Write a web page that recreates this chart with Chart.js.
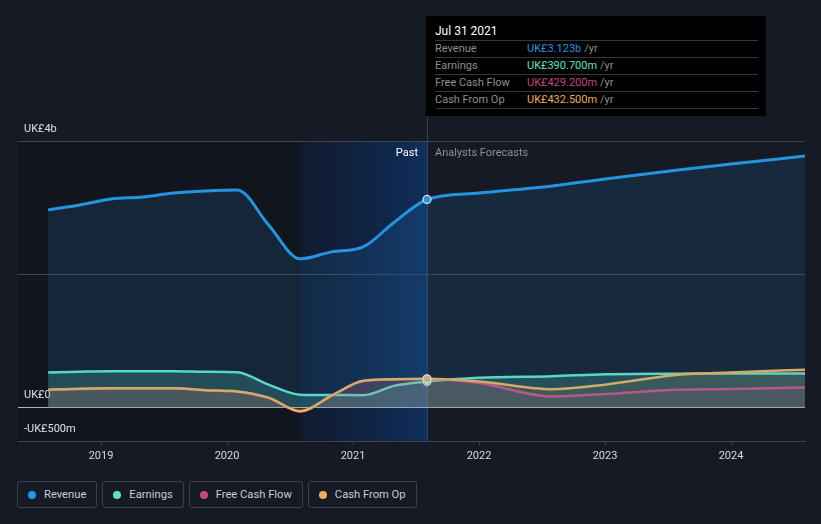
<!DOCTYPE html>
<html>
<head>
<meta charset="utf-8">
<script src="https://cdn.jsdelivr.net/npm/chart.js@4.4.1/dist/chart.umd.min.js"></script>
<style>
  body { margin: 0; width: 821px; height: 524px; overflow: hidden; position: relative;
         background: #151a24; font-family: Roboto, "Noto Sans", sans-serif; }
  #wrap { position: absolute; left: 0; top: 0; width: 821px; height: 470px; }
  #tip { position: absolute; left: 426px; top: 16px; width: 340px; height: 100px; box-sizing: border-box;
         background: #000; padding: 0 8px 0 9px; font-size: 11px; color: #8e8e8e; }
  #tip .ttl { padding-top: 8px; height: 16px; line-height: 14px; font-size: 12px; color: #fff; }
  #tip .row { border-top: 1px solid #363636; height: 16px; line-height: 16px; display: flex; }
  #tip .row:last-child { border-bottom: 1px solid #363636; }
  #tip .lbl { width: 92px; }
  #tip .u { color: #8e8e8e; margin-left: 3px; }
  #legend { position: absolute; left: 17px; top: 481px; display: flex; gap: 5px; }
  .btn { height: 27px; box-sizing: border-box; border: 1px solid #3b404a; border-radius: 3px;
         display: flex; align-items: center; padding: 0 10px 0 10px; font-size: 11.2px; color: #c9ccd2; }
  .btn i { width: 8px; height: 8px; border-radius: 50%; margin-right: 8px; display: inline-block; }
</style>
</head>
<body>
<div id="wrap"><canvas id="chart" width="821" height="470"></canvas></div>

<div id="tip">
  <div class="ttl">Jul 31 2021</div>
  <div class="row"><span class="lbl">Revenue</span><span style="color:#2394df">UK£3.123b</span><span class="u">/yr</span></div>
  <div class="row"><span class="lbl">Earnings</span><span style="color:#5de2c7">UK£390.700m</span><span class="u">/yr</span></div>
  <div class="row"><span class="lbl">Free Cash Flow</span><span style="color:#c9457f">UK£429.200m</span><span class="u">/yr</span></div>
  <div class="row"><span class="lbl">Cash From Op</span><span style="color:#eeae55">UK£432.500m</span><span class="u">/yr</span></div>
</div>

<div id="legend"></div>

<script>
// time axis in decimal years, values in UK£ millions
const times = [2018.58, 2018.83, 2019.08, 2019.33, 2019.58, 2019.83, 2020.08, 2020.33, 2020.58,
               2020.83, 2021.08, 2021.33, 2021.587, 2022.0, 2022.58, 2023.0, 2023.58, 2024.0, 2024.587];
const revenue    = [2966, 3041, 3131, 3161, 3221, 3251, 3266, 2741, 2232, 2337, 2412, 2786, 3123, 3221, 3326, 3430, 3565, 3655, 3775];
const earnings   = [529, 540, 547, 547, 547, 540, 532, 345, 195, 190, 187, 330, 390.7, 449, 472, 500, 509, 514, 514];
const freeCash   = [266, 281, 286, 288, 286, 258, 240, 146, -56, 176, 400, 423, 429.2, 370, 169, 205, 270, 280, 304];
const cashFromOp = [270, 285, 290, 292, 290, 262, 244, 150, -52, 180, 404, 427, 432.5, 394, 277, 345, 494, 529, 569];

const seriesNames = ["Revenue", "Earnings", "Free Cash Flow", "Cash From Op"];
const seriesColors = ["#2394df", "#5de2c7", "#c9457f", "#eeae55"];

const xMin = 2018.341, xMax = 2024.587;
const xTickYears = [2019, 2020, 2021, 2022, 2023, 2024];
const yTickValues = [-500, 0, 2000, 4000];
const yTickLabels = ["-UK£500m", "UK£0", "", "UK£4b"];
const pastStart = 2020.58;   // start of the highlighted last year
const cursorT = 2021.587;    // Jul 31 2021

function pts(arr) {
  return arr.map((v, i) => ({ x: times[i], y: v }));
}

function mkSet(idx, values, fillColor, width, order) {
  return {
    label: seriesNames[idx],
    data: pts(values),
    borderColor: seriesColors[idx],
    backgroundColor: fillColor,
    fill: "origin",
    borderWidth: width,
    cubicInterpolationMode: "monotone",
    order: order,
    pointRadius: (c) => (c.raw && c.raw.x === cursorT ? 4 : 0),
    pointHoverRadius: 0,
    pointBackgroundColor: seriesColors[idx],
    pointBorderColor: "#dce6f0",
    pointBorderWidth: 1.2,
  };
}

// darker past area, highlighted last year and the cursor line
const backdrop = {
  id: "backdrop",
  beforeDraw(chart) {
    const { ctx, chartArea: a, scales: { x } } = chart;
    const x0 = x.getPixelForValue(pastStart);
    const x1 = x.getPixelForValue(cursorT);
    ctx.save();
    ctx.fillStyle = "rgba(0,0,0,0.16)";
    ctx.fillRect(a.left, a.top, x0 - a.left, a.bottom - a.top);
    const g = ctx.createLinearGradient(x0, 0, x1, 0);
    g.addColorStop(0, "rgba(8,30,70,0.35)");
    g.addColorStop(1, "rgba(12,62,130,0.6)");
    ctx.fillStyle = g;
    ctx.fillRect(x0, a.top, x1 - x0, a.bottom - a.top);
    ctx.strokeStyle = "rgba(80,110,160,0.45)";
    ctx.lineWidth = 1;
    ctx.beginPath();
    ctx.moveTo(Math.round(x1) + 0.5, 116);
    ctx.lineTo(Math.round(x1) + 0.5, a.bottom);
    ctx.stroke();
    ctx.restore();
  },
  afterDatasetsDraw(chart) {
    const { ctx, chartArea: a, scales: { x } } = chart;
    const x1 = x.getPixelForValue(cursorT);
    ctx.save();
    ctx.font = "11px Roboto";
    ctx.textBaseline = "middle";
    ctx.textAlign = "right";
    ctx.fillStyle = "#ffffff";
    ctx.fillText("Past", x1 - 9, a.top + 12);
    ctx.textAlign = "left";
    ctx.fillStyle = "#8b9099";
    ctx.fillText("Analysts Forecasts", x1 + 8, a.top + 12);
    ctx.restore();
  }
};

const ctx = document.getElementById("chart").getContext("2d");
new Chart(ctx, {
  type: "line",
  data: {
    datasets: [
      mkSet(0, revenue, "rgba(35,148,223,0.13)", 3, 0),
      mkSet(1, earnings, "rgba(93,226,199,0.22)", 2.5, 3),
      mkSet(2, freeCash, "rgba(201,69,127,0.14)", 2.5, 2),
      mkSet(3, cashFromOp, "rgba(238,174,85,0.12)", 2.5, 1),
    ]
  },
  options: {
    responsive: false,
    animation: false,
    events: [],
    layout: { padding: { left: 18, right: 16, top: 141, bottom: 0 } },
    plugins: { legend: { display: false }, tooltip: { enabled: false } },
    scales: {
      x: {
        type: "linear",
        min: xMin,
        max: xMax,
        afterFit: (s) => { s.height = 29; },
        afterBuildTicks: (s) => { s.ticks = xTickYears.map((v) => ({ value: v })); },
        ticks: {
          color: "#d8dbe0",
          font: { family: "Roboto", size: 11 },
          padding: 5,
          maxRotation: 0,
          autoSkip: false,
          callback: (v) => String(v),
        },
        grid: { drawOnChartArea: false, tickLength: 4, color: "#3d424c" },
        border: { color: "#3d424c" },
      },
      y: {
        min: -500,
        max: 4000,
        afterFit: (s) => { s.width = 0; },
        afterBuildTicks: (s) => { s.ticks = yTickValues.map((v) => ({ value: v })); },
        ticks: {
          mirror: true,
          padding: 6,
          labelOffset: -12,
          autoSkip: false,
          color: "#dde0e4",
          font: { family: "Roboto", size: 11 },
          callback: (v) => yTickLabels[yTickValues.indexOf(v)],
        },
        grid: {
          drawTicks: false,
          color: (c) => c.tick.value === 0 ? "#aeb2b8" : (c.tick.value === -500 ? "rgba(0,0,0,0)" : "#3f444d"),
        },
        border: { display: false },
      }
    }
  },
  plugins: [backdrop]
});

// legend buttons
const legend = document.getElementById("legend");
seriesNames.forEach((name, i) => {
  const b = document.createElement("div");
  b.className = "btn";
  b.innerHTML = `<i style="background:${seriesColors[i]}"></i>${name}`;
  legend.appendChild(b);
});
</script>
</body>
</html>
